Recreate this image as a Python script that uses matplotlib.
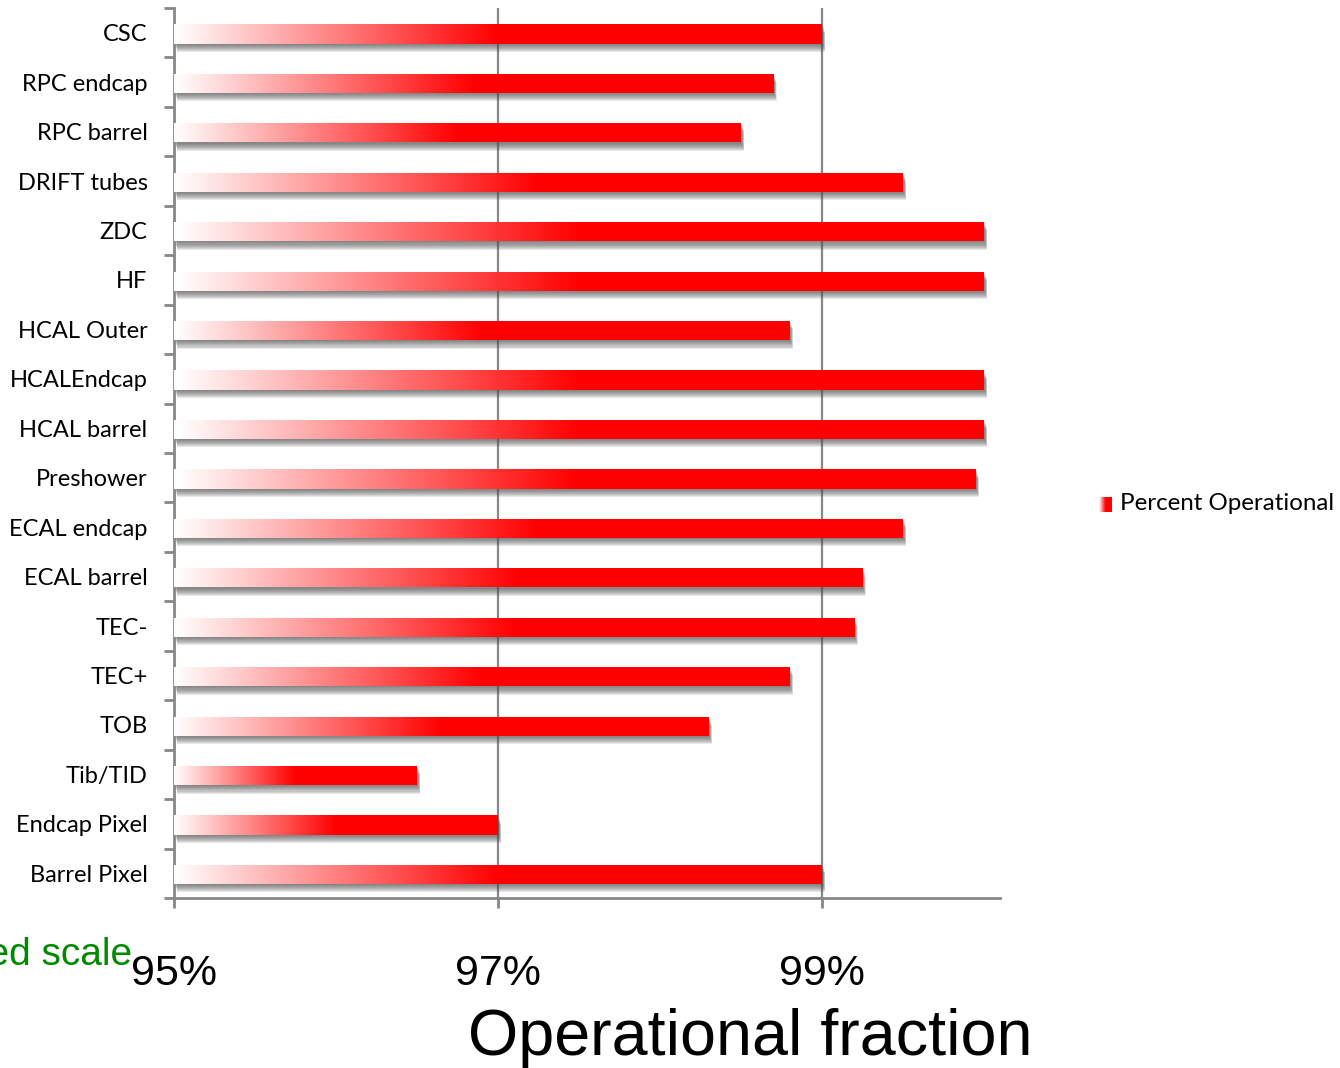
"""
Fraction opérationnelle des sous-détecteurs (barres horizontales en dégradé)
"""

import numpy as np
import matplotlib

matplotlib.use("Agg")
import matplotlib.pyplot as plt
import matplotlib.patheffects as pe
from matplotlib.colors import LinearSegmentedColormap

# Données (du bas vers le haut)
categories = [
    "Barrel Pixel",
    "Endcap Pixel",
    "Tib/TID",
    "TOB",
    "TEC+",
    "TEC-",
    "ECAL barrel",
    "ECAL endcap",
    "Preshower",
    "HCAL barrel",
    "HCALEndcap",
    "HCAL Outer",
    "HF",
    "ZDC",
    "DRIFT tubes",
    "RPC barrel",
    "RPC endcap",
    "CSC",
]
percent_operational = [
    99.0, 97.0, 96.5, 98.3, 98.8, 99.2, 99.25, 99.5, 99.95,
    100.0, 100.0, 98.8, 100.0, 100.0, 99.5, 98.5, 98.7, 99.0,
]
x_ticks = [95, 97, 99]
x_tick_labels = ["95%", "97%", "99%"]
x_min, x_max = 95.0, 100.1

W, H = 1340, 1068
AXIS_GRAY = "#878787"
label_font = ["Lato", "DejaVu Sans"]
big_font = ["Liberation Sans", "DejaVu Sans"]

# dégradé blanc -> rouge, rouge plein à mi-longueur
grad_cmap = LinearSegmentedColormap.from_list(
    "white_red", [(0.0, "#ffffff"), (0.5, "#ff0000"), (1.0, "#ff0000")]
)
gradient = np.linspace(0, 1, 256).reshape(1, -1)

# ombre floue : plusieurs couches décalées, peu opaques
shadow = [
    pe.SimplePatchShadow(offset=(0.5 + 0.25 * k, -0.75 * k), shadow_rgbFace="#505050", alpha=0.13)
    for k in range(1, 9)
]

fig = plt.figure(figsize=(W / 100, H / 100), dpi=100)
ax = fig.add_axes([174 / W, (H - 898) / H, (1000 - 174) / W, (898 - 8) / H])

y = np.arange(len(categories))
values = np.array(percent_operational)

bars = ax.barh(
    y - 0.025,
    values - x_min,
    left=x_min,
    height=0.39,
    color="white",
    edgecolor="none",
    zorder=2,
)
for bar in bars:
    bar.set_path_effects(shadow + [pe.Normal()])
    x0, y0 = bar.get_x(), bar.get_y()
    im = ax.imshow(
        gradient,
        extent=[x0, x0 + bar.get_width(), y0, y0 + bar.get_height()],
        aspect="auto",
        cmap=grad_cmap,
        interpolation="bilinear",
        zorder=3,
    )
    im.set_clip_path(bar)

ax.set_xlim(x_min, x_max)
ax.set_ylim(-0.5, len(categories) - 0.5)

# axes et graduations
for side in ["top", "right"]:
    ax.spines[side].set_visible(False)
for side in ["left", "bottom"]:
    ax.spines[side].set_color(AXIS_GRAY)
    ax.spines[side].set_linewidth(2)

ax.set_yticks(y)
ax.set_yticklabels(categories, fontsize=17, family=label_font)
ax.tick_params(axis="y", which="major", length=0, pad=19)
ax.set_yticks(np.arange(-0.5, len(categories)), minor=True)
ax.tick_params(axis="y", which="minor", length=7, width=2, color=AXIS_GRAY)

ax.set_xticks(x_ticks)
ax.set_xticklabels(x_tick_labels, fontsize=31, family=big_font)
ax.tick_params(axis="x", length=7, width=2, color=AXIS_GRAY, pad=33)

ax.grid(axis="x", color=AXIS_GRAY, linewidth=1.6)
ax.set_axisbelow(True)

# légende
leg_ax = fig.add_axes([1099 / W, (H - 512) / H, 13 / W, 15 / H])
leg_ax.imshow(
    np.linspace(0.15, 1, 32).reshape(1, -1),
    aspect="auto",
    cmap=grad_cmap,
    interpolation="bilinear",
)
leg_ax.axis("off")
fig.text(1120 / W, (H - 504) / H, "Percent Operational", fontsize=17.4,
         family=label_font, va="center", ha="left")

# titres
fig.text(750 / W, (H - 1055) / H, "Operational fraction", fontsize=46.5,
         family=big_font, ha="center", va="baseline")
fig.text(132 / W, (H - 965) / H, "Zoomed scale", fontsize=28,
         family=big_font, color="#008a00", ha="right", va="baseline")

fig.savefig("out.png", dpi=100)
